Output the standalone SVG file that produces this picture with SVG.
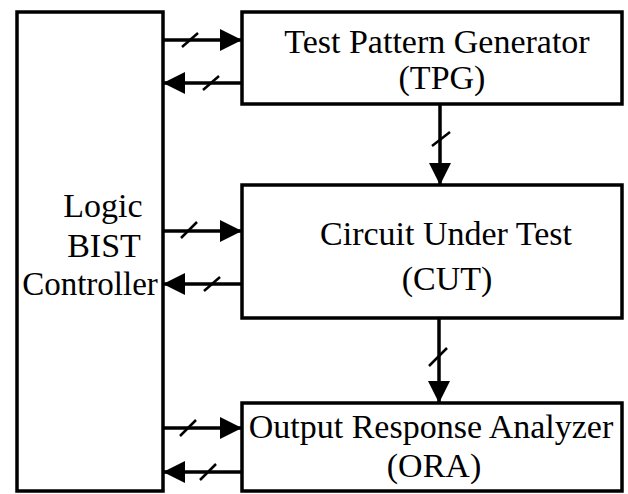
<svg xmlns="http://www.w3.org/2000/svg" width="628" height="494" viewBox="0 0 628 494">
<style>
.box{fill:#fff;stroke:#000;stroke-width:3.5}
.lbl{font-family:"Liberation Serif","Times New Roman",serif;font-size:34px;fill:#000;text-anchor:middle}
.wire{stroke:#000;stroke-width:3.5;fill:none}
.tick{stroke:#000;stroke-width:2.5;fill:none}
</style>
<defs>
<marker id="ah" markerUnits="userSpaceOnUse" markerWidth="22" markerHeight="22" refX="22" refY="11" orient="auto">
<path d="M0,0 L22,11 L0,22 z" fill="#000"/>
</marker>
</defs>
<rect width="628" height="494" fill="#fff"/>
<g id="controller">
<rect class="box" x="17" y="12" width="146" height="479"/>
<text class="lbl" x="103" y="217">Logic</text>
<text class="lbl" x="104" y="257">BIST</text>
<text class="lbl" x="90" y="295" style="font-size:33px">Controller</text>
</g>
<g id="tpg">
<rect class="box" x="242" y="12" width="380" height="92"/>
<text class="lbl" x="437" y="53">Test Pattern Generator</text>
<text class="lbl" x="442" y="89">(TPG)</text>
</g>
<g id="cut">
<rect class="box" x="242" y="185" width="380" height="133"/>
<text class="lbl" x="446" y="245">Circuit Under Test</text>
<text class="lbl" x="447" y="290">(CUT)</text>
</g>
<g id="ora">
<rect class="box" x="242" y="403" width="380" height="88"/>
<text class="lbl" x="431" y="438">Output Response Analyzer</text>
<text class="lbl" x="434" y="477">(ORA)</text>
</g>
<g id="connectors">
<path class="wire" d="M163,40 H242" marker-end="url(#ah)"/>
<path class="tick" d="M182,47 L198,33"/>
<path class="wire" d="M242,83 H163" marker-end="url(#ah)"/>
<path class="tick" d="M203,90 L219,76"/>
<path class="wire" d="M440,104 V185" marker-end="url(#ah)"/>
<path class="tick" d="M432,146 L450,132"/>
<path class="wire" d="M163,231 H242" marker-end="url(#ah)"/>
<path class="tick" d="M181,238 L197,222"/>
<path class="wire" d="M242,284 H163" marker-end="url(#ah)"/>
<path class="tick" d="M204,291 L220,277"/>
<path class="wire" d="M439,318 V403" marker-end="url(#ah)"/>
<path class="tick" d="M429,366 L447,348"/>
<path class="wire" d="M163,428 H242" marker-end="url(#ah)"/>
<path class="tick" d="M180,436 L196,420"/>
<path class="wire" d="M242,472 H163" marker-end="url(#ah)"/>
<path class="tick" d="M200,480 L216,464"/>
</g>
</svg>
